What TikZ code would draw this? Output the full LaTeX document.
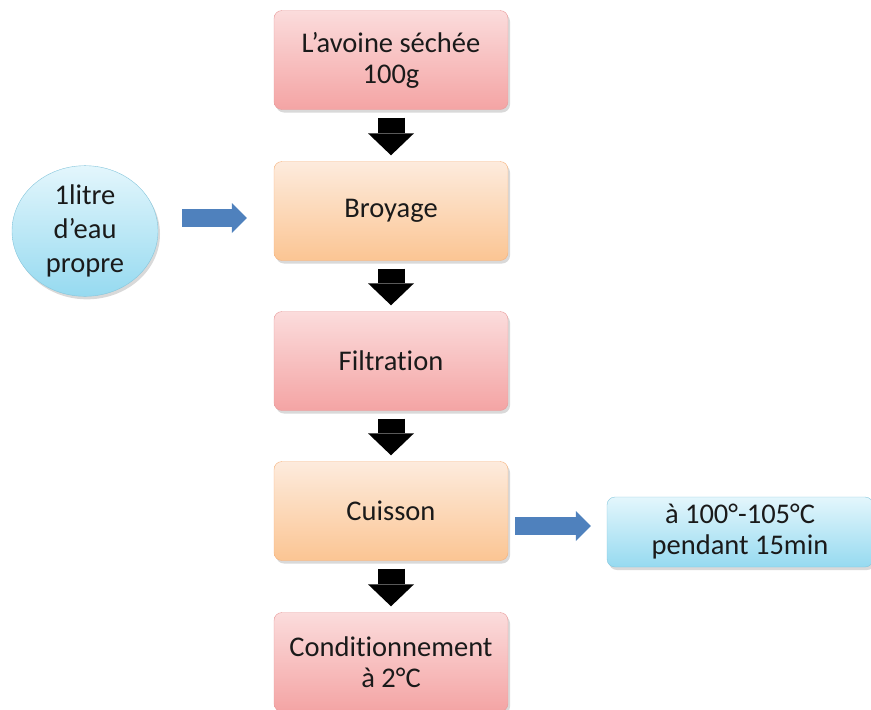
\documentclass[tikz,border=0pt]{standalone}
\usepackage{fontspec}
\setmainfont{Carlito}[Ligatures=NoCommon]
\usetikzlibrary{shapes,arrows.meta,positioning,shadows}
\definecolor{rosehaut}{HTML}{FBDCDC}
\definecolor{rosebas}{HTML}{F4A4A4}
\definecolor{rosebord}{HTML}{E89A9A}
\definecolor{orangehaut}{HTML}{FDEBDD}
\definecolor{orangebas}{HTML}{FBC593}
\definecolor{orangebord}{HTML}{F6B27C}
\definecolor{bleuhaut}{HTML}{E3F6FC}
\definecolor{bleubas}{HTML}{96DAF0}
\definecolor{bleubord}{HTML}{86C6DC}
\definecolor{flechebleu}{HTML}{4F81BD}
\definecolor{textgray}{HTML}{1A1A1A}
\tikzset{
  etape/.style={
    draw=rosebord,
    rounded corners=8pt,
    top color=rosehaut,
    bottom color=rosebas,
    align=center,
    minimum width=234pt,
    minimum height=99pt,
    font=\fontsize{28.5}{31}\selectfont,
    text=textgray,
    drop shadow={opacity=0.3,shadow xshift=2pt,shadow yshift=-3pt}
  },
  traitement/.style={
    etape,
    draw=orangebord,
    top color=orangehaut,
    bottom color=orangebas
  },
  apport/.style={
    ellipse,
    draw=bleubord,
    top color=bleuhaut,
    bottom color=bleubas,
    align=center,
    minimum width=146pt,
    minimum height=122pt,
    inner sep=0pt,
    font=\fontsize{28.5}{34}\selectfont,
    text=textgray,
    drop shadow={opacity=0.3,shadow xshift=2pt,shadow yshift=-3pt}
  },
  condition/.style={
    etape,
    draw=bleubord,
    top color=bleuhaut,
    bottom color=bleubas,
    minimum width=266pt,
    minimum height=70pt
  },
  fleche/.style={
    -{Triangle[length=22pt,width=46pt,line width=0pt]},
    line width=27pt,
    draw=black
  },
  flechebleue/.style={
    -{Triangle[length=15pt,width=30pt,line width=0pt]},
    line width=18pt,
    draw=flechebleu
  }
}
\begin{document}
\begin{tikzpicture}[x=1pt,y=-1pt]
  \useasboundingbox (0,0) rectangle (871,710);

  \node[etape] (avoine) at (391,60) {L’avoine séchée\\100g};
  \node[traitement] (broyage) at (391,211) {Broyage};
  \node[etape] (filtration) at (391,361) {Filtration};
  \node[traitement] (cuisson) at (391,511) {Cuisson};
  \node[etape] (condit) at (391,662) {Conditionnement\\à 2°C};

  \node[apport] (eau) at (85,231) {1litre\\d’eau\\propre};
  \node[condition] (temp) at (740,532) {à 100°-105°C\\pendant 15min};

  \draw[fleche, shorten <=8pt, shorten >=6pt] (avoine) -- (broyage);
  \draw[fleche, shorten <=8pt, shorten >=6pt] (broyage) -- (filtration);
  \draw[fleche, shorten <=8pt, shorten >=6pt] (filtration) -- (cuisson);
  \draw[fleche, shorten <=8pt, shorten >=6pt] (cuisson) -- (condit);

  \draw[flechebleue, shorten <=24pt, shorten >=27pt]
    ([yshift=13pt]eau.east) -- ([yshift=-7pt]broyage.west);
  \draw[flechebleue, shorten <=7pt, shorten >=16pt]
    ([yshift=-15pt]cuisson.east) -- ([yshift=6pt]temp.west);
\end{tikzpicture}
\end{document}
